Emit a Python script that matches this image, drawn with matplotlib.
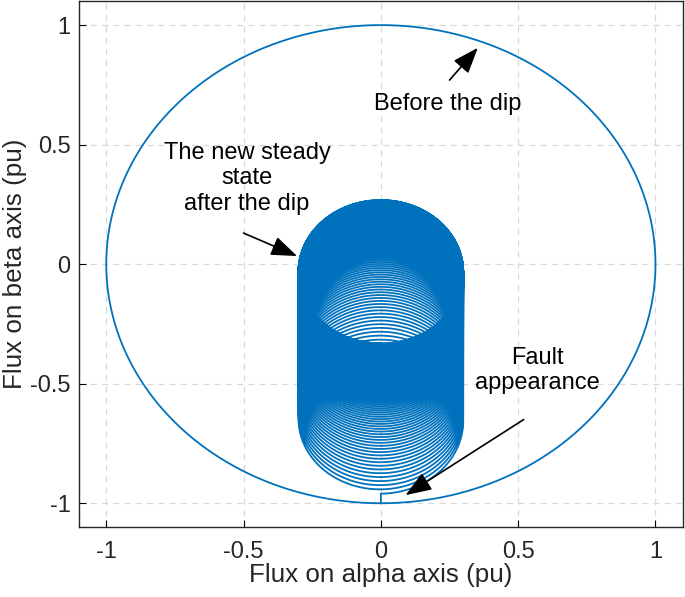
import numpy as np
import matplotlib
matplotlib.use("Agg")
import matplotlib.pyplot as plt

plt.rcParams['font.family'] = ['Liberation Sans', 'DejaVu Sans']

# ---- data ----
pre_dip_radius = 1.0          # flux magnitude before the dip (pu)
post_dip_radius = 0.30        # forced flux magnitude after the dip (pu)
dc_offset_start = -0.66       # natural flux (beta) right after the fault (pu)
dc_offset_end = 0.0           # natural flux final value (pu)
tau_turns = 36.0              # decay time constant, in electrical turns
n_turns = 110                 # simulated turns after the fault
pts_per_turn = 200

xticks = [-1, -0.5, 0, 0.5, 1]
yticks = [-1, -0.5, 0, 0.5, 1]
xtick_labels = ['-1', '-0.5', '0', '0.5', '1']
ytick_labels = ['-1', '-0.5', '0', '0.5', '1']

# ---- trajectories ----
t_pre = np.linspace(0, 1, pts_per_turn + 1)
phi_pre = -np.pi / 2 + 2 * np.pi * t_pre
x_pre = pre_dip_radius * np.cos(phi_pre)
y_pre = pre_dip_radius * np.sin(phi_pre)

t_post = np.linspace(0, n_turns, n_turns * pts_per_turn + 1)
phi_post = -np.pi / 2 + 2 * np.pi * t_post
offset = dc_offset_end + (dc_offset_start - dc_offset_end) * np.exp(-t_post / tau_turns)
x_post = post_dip_radius * np.cos(phi_post)
y_post = offset + post_dip_radius * np.sin(phi_post)

x = np.concatenate([x_pre, x_post])
y = np.concatenate([y_pre, y_post])

color = '#0072BD'
txt = '#262626'

fig = plt.figure(figsize=(6.85, 5.97), dpi=100)
ax = fig.add_axes([0.115, 0.117, 0.882, 0.881])
ax.plot(x, y, color=color, lw=1.3)

ax.set_xlim(-1.1, 1.1)
ax.set_ylim(-1.1, 1.1)
ax.set_xticks(xticks)
ax.set_xticklabels(xtick_labels)
ax.set_yticks(yticks)
ax.set_yticklabels(ytick_labels)
ax.tick_params(direction='in', labelsize=17, length=5, top=False, right=False,
               labelcolor=txt)
ax.tick_params(axis='x', pad=10)
ax.tick_params(axis='y', pad=6)
ax.grid(True, linestyle=(0, (5, 4)), color='#d9d9d9', lw=0.9)
ax.set_axisbelow(True)
for s in ax.spines.values():
    s.set_linewidth(1.0)
    s.set_color(txt)

ax.set_xlabel('Flux on alpha axis (pu)', fontsize=18.7, color=txt)
ax.set_ylabel('Flux on beta axis (pu)', fontsize=18.7, color=txt)
ax.xaxis.set_label_coords(0.5, -0.068)
ax.yaxis.set_label_coords(-0.085, 0.5)

ap = dict(arrowstyle='-|>,head_length=0.8,head_width=0.3', color='k', lw=1.2,
          mutation_scale=20, shrinkA=0, shrinkB=0)
ax.annotate('', xy=(0.353, 0.905), xytext=(0.25, 0.77), arrowprops=ap)
ax.text(0.245, 0.672, 'Before the dip', ha='center', va='center', fontsize=17)

ax.annotate('', xy=(-0.305, 0.034), xytext=(-0.50, 0.13), arrowprops=ap)
ax.text(-0.487, 0.36, 'The new steady\nstate\nafter the dip', ha='center', va='center',
        fontsize=17, linespacing=1.2)

ax.annotate('', xy=(0.09, -0.966), xytext=(0.52, -0.65), arrowprops=ap)
ax.text(0.57, -0.445, 'Fault\nappearance', ha='center', va='center', fontsize=17,
        linespacing=1.2)

fig.savefig('out.png', dpi=100)
